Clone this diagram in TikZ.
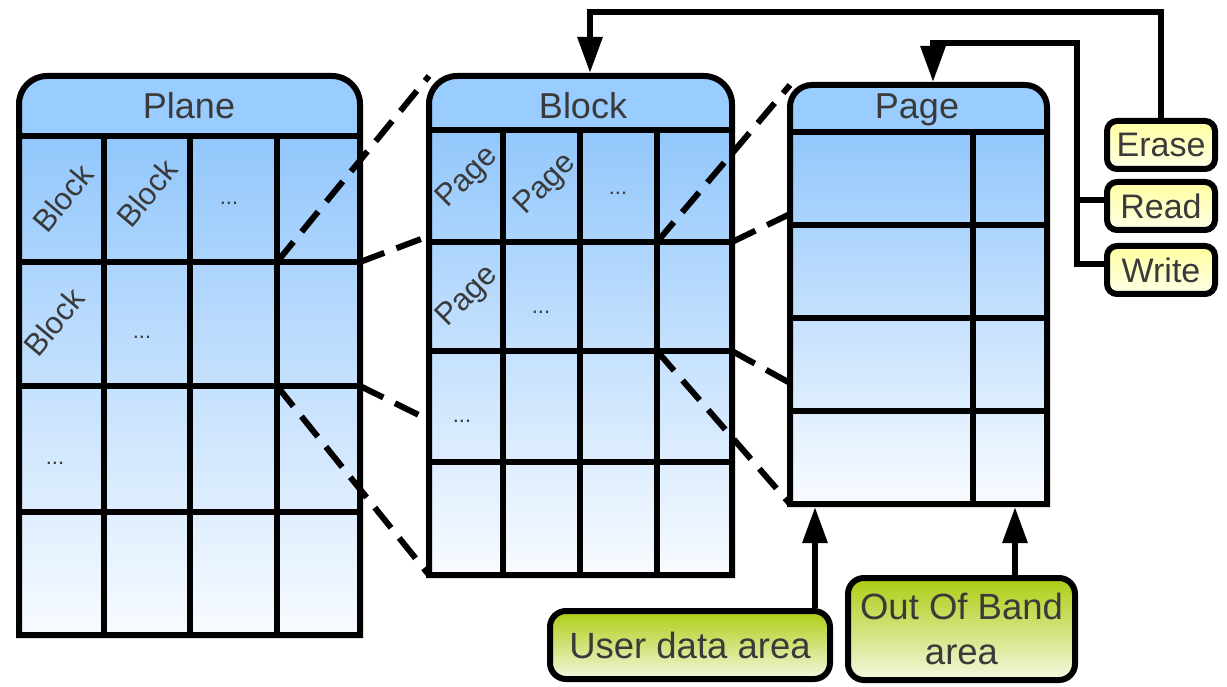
\documentclass[tikz,border=0pt]{standalone}
\usepackage{fontspec}
\setmainfont{Liberation Sans}
\usetikzlibrary{arrows.meta}
\definecolor{headcol}{RGB}{153,204,255}
\definecolor{bodytop}{RGB}{146,199,252}
\definecolor{bodybot}{RGB}{248,251,255}
\definecolor{yeltop}{RGB}{255,255,160}
\definecolor{yelbot}{RGB}{255,255,232}
\definecolor{grntop}{RGB}{172,206,18}
\definecolor{grnbot}{RGB}{244,248,224}
\definecolor{txt}{RGB}{58,58,58}
\newcommand\drawframe[6]{%
  \fill[headcol] (#1,#4) [rounded corners=#6pt] -- (#1,#3) -- (#2,#3) [sharp corners] -- (#2,#4) -- cycle;
  \shade[top color=bodytop,bottom color=bodybot] (#1,#4) rectangle (#2,#5);
}
\newcommand\outlineframe[6]{%
  \draw[frameline] (#1,#4) -- (#2,#4);
  \draw[frameline] (#1,#5) [rounded corners=#6pt] -- (#1,#3) -- (#2,#3) [sharp corners] -- (#2,#5) -- cycle;
}
\tikzset{
  frameline/.style={line width=6pt, black},
  gridline/.style={line width=6pt, black},
  frame/.style={inner sep=0pt, outer sep=0pt, draw=none},
  zoomline/.style={line width=6pt, dash pattern=on 26pt off 13pt},
  hdr/.style={text=txt, font=\fontsize{36}{42}\selectfont, anchor=base, inner sep=0pt},
  celltxt/.style={text=txt, font=\fontsize{31}{36}\selectfont, inner sep=0pt},
  dots/.style={text=txt, font=\fontsize{22}{26}\selectfont, inner sep=0pt},
  opbox/.style={draw, line width=6pt, rounded corners=10pt, top color=yeltop, bottom color=yelbot,
    minimum width=108pt, minimum height=48pt, inner sep=0pt, text=txt, font=\fontsize{34}{38}\selectfont},
  areabox/.style={draw, line width=6pt, rounded corners=16pt, top color=grntop, bottom color=grnbot,
    inner sep=0pt, text=txt, align=center, font=\fontsize{36.5}{45}\selectfont},
  arr/.style={line width=6pt, -{Triangle[length=36pt,width=24pt]}},
  conn/.style={line width=6pt}
}
\begin{document}
\begin{tikzpicture}[x=1pt,y=-1pt]
\useasboundingbox (0,0) rectangle (1227,687);
% container nodes (invisible, used as anchors)
\node[frame, minimum width=341pt, minimum height=559pt] (plane) at (189.5,355.5) {};
\node[frame, minimum width=303pt, minimum height=499pt] (block) at (580.5,325.5) {};
\node[frame, minimum width=257pt, minimum height=419pt] (page) at (918.5,294.5) {};
% ---------------- Plane ----------------
\drawframe{19}{360}{76}{136}{635}{28}
\foreach \x in {104,190,277} \draw[gridline] (\x,136) -- (\x,635);
\foreach \y in {262,386,512} \draw[gridline] (19,\y) -- (360,\y);
\outlineframe{19}{360}{76}{136}{635}{28}
\node[hdr] (planelbl) at (189,119) {Plane};
\node[celltxt, rotate=50] (pb1) at (63,198) {Block};
\node[celltxt, rotate=50] (pb2) at (147,193) {Block};
\node[dots] (pd1) at (229,203) {...};
\node[celltxt, rotate=50] (pb3) at (54,322) {Block};
\node[dots] (pd2) at (142,337) {...};
\node[dots] (pd3) at (55,463) {...};
% zoom lines plane -> block
\coordinate (pc1) at (277,262);
\coordinate (pc2) at (360,262);
\coordinate (pc3) at (360,386);
\coordinate (pc4) at (277,386);
\coordinate (bl1) at (429,236);
\coordinate (bl2) at (429,420);
\draw[zoomline] (pc1) -- (block.north west);
\draw[zoomline] (pc2) -- (bl1);
\draw[zoomline] (pc3) -- (bl2);
\draw[zoomline] (pc4) -- (block.south west);
% ---------------- Block ----------------
\drawframe{429}{732}{76}{130}{575}{28}
\foreach \x in {503,580,657} \draw[gridline] (\x,130) -- (\x,575);
\foreach \y in {242,351,462} \draw[gridline] (429,\y) -- (732,\y);
\outlineframe{429}{732}{76}{130}{575}{28}
\node[hdr] (blocklbl) at (583,119) {Block};
\node[celltxt, rotate=45] (bp1) at (468,178) {Page};
\node[celltxt, rotate=45] (bp2) at (546,185) {Page};
\node[dots] (bd1) at (618,193) {...};
\node[celltxt, rotate=45] (bp3) at (468,297) {Page};
\node[dots] (bd2) at (541,312) {...};
\node[dots] (bd3) at (462,421) {...};
% zoom lines block -> page
\coordinate (bc1) at (657,242);
\coordinate (bc2) at (732,242);
\coordinate (bc3) at (732,351);
\coordinate (bc4) at (657,351);
\coordinate (pl1) at (790,214);
\coordinate (pl2) at (790,383);
\draw[zoomline] (bc1) -- (page.north west);
\draw[zoomline] (bc2) -- (pl1);
\draw[zoomline] (bc3) -- (pl2);
\draw[zoomline] (bc4) -- (page.south west);
% ---------------- Page ----------------
\drawframe{790}{1047}{85}{132}{504}{22}
\draw[gridline] (973,132) -- (973,504);
\foreach \y in {225,318,411} \draw[gridline] (790,\y) -- (1047,\y);
\outlineframe{790}{1047}{85}{132}{504}{22}
\node[hdr] (pagelbl) at (917,119) {Page};
% ---------------- Operations ----------------
\node[opbox] (erase) at (1161,145) {Erase};
\node[opbox] (read) at (1161,206) {Read};
\node[opbox] (write) at (1161,270) {Write};
\coordinate (etop) at (1161,12);
\coordinate (eleft) at (590,12);
\draw[arr, shorten >=3pt] (erase.north) -- (etop) -- (eleft) -- (eleft |- block.north);
\coordinate (rwtop) at (1077,43);
\coordinate (rwleft) at (933,43);
\draw[arr, shorten >=3pt] ([yshift=6pt]write.west) -| (rwtop) -- (rwleft) -- (rwleft |- page.north);
\draw[conn] ([yshift=6pt]read.west) -- ([yshift=6pt]read.west -| rwtop);
% ---------------- Areas ----------------
\node[areabox, minimum width=280pt, minimum height=68pt] (user) at (690,645) {User data area};
\node[areabox, minimum width=227pt, minimum height=102pt] (oob) at (961.5,629) {Out Of Band\\area};
\coordinate (ux) at (815,0);
\coordinate (ox) at (1015,0);
\draw[arr, shorten >=3pt] (user.north -| ux) -- (page.south -| ux);
\draw[arr, shorten >=3pt] (oob.north -| ox) -- (page.south -| ox);
\end{tikzpicture}
\end{document}
